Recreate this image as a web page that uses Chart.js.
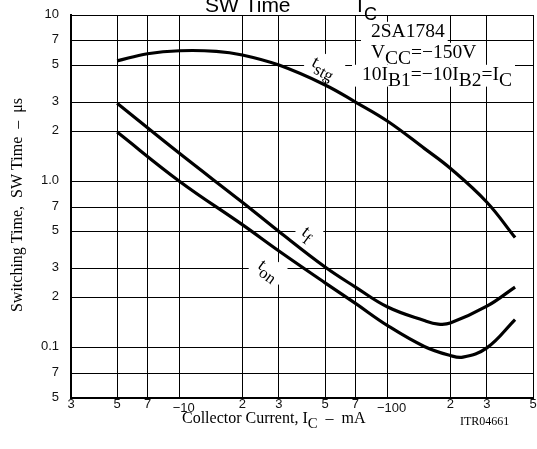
<!DOCTYPE html>
<html>
<head>
<meta charset="utf-8">
<script src="https://cdn.jsdelivr.net/npm/chart.js@4"></script>
<style>
  body { margin: 0; background: #fff; }
  canvas { display: block; }
</style>
</head>
<body>
<canvas id="chart" width="537" height="449"></canvas>
<script>
// axis ticks (collector current in -mA, switching time in us)
const xTicks = [3, 5, 7, 10, 20, 30, 50, 70, 100, 200, 300, 500];
const xTickLabels = ["3", "5", "7", "\u221210", "2", "3", "5", "7", "\u2212100", "2", "3", "5"];
const yTicks = [0.05, 0.07, 0.1, 0.2, 0.3, 0.5, 0.7, 1, 2, 3, 5, 7, 10];
const yTickLabels = ["5", "7", "0.1", "2", "3", "5", "7", "1.0", "2", "3", "5", "7", "10"];

// curves
const tstgCurrent = [5, 7, 10, 15, 20, 30, 50, 70, 100, 150, 200, 300, 410];
const tstgTime = [5.3, 5.85, 6.1, 6.05, 5.75, 5.0, 3.8, 3.0, 2.3, 1.58, 1.2, 0.75, 0.46];
const tfCurrent = [5, 10, 20, 30, 50, 70, 100, 150, 175, 200, 300, 410];
const tfTime = [2.95, 1.47, 0.75, 0.5, 0.306, 0.232, 0.176, 0.146, 0.139, 0.141, 0.178, 0.232];
const tonCurrent = [5, 10, 20, 30, 50, 70, 100, 150, 200, 230, 300, 410];
const tonTime = [1.98, 1.0, 0.55, 0.382, 0.246, 0.185, 0.136, 0.102, 0.09, 0.088, 0.1, 0.148];

const serif = '"Liberation Serif", "Times New Roman", serif';
const sans = '"Liberation Sans", Arial, sans-serif';

function toPoints(xs, ys) {
  return xs.map((x, i) => ({ x: x, y: ys[i] }));
}

function curve(xs, ys) {
  return {
    data: toPoints(xs, ys),
    showLine: true,
    borderColor: "#000",
    borderWidth: 3.2,
    pointRadius: 0,
    tension: 0.4,
    fill: false
  };
}

// draws text pieces, some of them lowered as subscripts
function drawRich(ctx, parts, x, y, size, subScale) {
  let cx = x;
  parts.forEach((p) => {
    const s = p.sub ? size * subScale : size;
    ctx.font = s + "px " + serif;
    ctx.fillText(p.t, cx, p.sub ? y + size * 0.3 : y);
    cx += ctx.measureText(p.t).width;
  });
  return cx - x;
}

function richWidth(ctx, parts, size, subScale) {
  let w = 0;
  parts.forEach((p) => {
    ctx.font = (p.sub ? size * subScale : size) + "px " + serif;
    w += ctx.measureText(p.t).width;
  });
  return w;
}

function boxedText(ctx, parts, x, y, size) {
  const w = richWidth(ctx, parts, size, 1);
  ctx.fillStyle = "#fff";
  ctx.fillRect(x - 10, y - size * 0.78, w + 13, size * 1.12);
  ctx.fillStyle = "#000";
  drawRich(ctx, parts, x, y, size, 1);
}

function curveLabel(chart, parts, xv, yv, angle, size) {
  const ctx = chart.ctx;
  const px = chart.scales.x.getPixelForValue(xv);
  const py = chart.scales.y.getPixelForValue(yv);
  const w = richWidth(ctx, parts, size, 0.92);
  ctx.save();
  ctx.translate(px, py);
  ctx.rotate(angle * Math.PI / 180);
  ctx.fillStyle = "#fff";
  ctx.fillRect(-w / 2 - 6, -size * 0.75, w + 12, size * 1.3);
  ctx.fillStyle = "#000";
  ctx.textBaseline = "alphabetic";
  drawRich(ctx, parts, -w / 2, size * 0.2, size, 0.92);
  ctx.restore();
}

const textPlugin = {
  id: "texts",
  beforeDatasetsDraw(chart) {
    const ctx = chart.ctx;
    ctx.save();
    ctx.textBaseline = "alphabetic";
    ctx.textAlign = "left";
    boxedText(ctx, [{ t: "2SA1784" }], 371, 37, 19.5);
    boxedText(ctx, [{ t: "V" }, { t: "CC", sub: true }, { t: "=\u2212150V" }], 371, 58, 19.5);
    boxedText(ctx, [{ t: "10I" }, { t: "B1", sub: true }, { t: "=\u221210I" }, { t: "B2", sub: true }, { t: "=I" }, { t: "C", sub: true }], 362, 80, 19.5);
    ctx.restore();

    curveLabel(chart, [{ t: "t" }, { t: "stg", sub: true }], 49, 4.8, 28, 18);
    curveLabel(chart, [{ t: "t" }, { t: "f", sub: true }], 41, 0.48, 36, 18);
    curveLabel(chart, [{ t: "t" }, { t: "on", sub: true }], 26.5, 0.29, 36, 18);
  },
  afterDraw(chart) {
    const ctx = chart.ctx;
    const xs = chart.scales.x;
    const ys = chart.scales.y;
    ctx.save();
    ctx.fillStyle = "#111";
    ctx.font = "13px " + sans;
    ctx.textAlign = "center";
    ctx.textBaseline = "alphabetic";
    xTicks.forEach((v, i) => {
      const lab = xTickLabels[i];
      const low = lab.startsWith("\u2212");
      ctx.fillText(lab, xs.getPixelForValue(v) + (low ? 4 : 0), low ? 412 : 408);
    });
    ctx.textAlign = "right";
    ctx.textBaseline = "middle";
    yTicks.forEach((v, i) => {
      ctx.fillText(yTickLabels[i], 59, ys.getPixelForValue(v) - 1);
    });

    // axis titles
    ctx.fillStyle = "#000";
    ctx.textAlign = "left";
    ctx.textBaseline = "alphabetic";
    drawRich(ctx, [{ t: "Collector Current, I" }, { t: "C", sub: true }, { t: "  \u2013  mA" }], 182, 423, 16, 0.92);
    ctx.font = "12px " + serif;
    ctx.fillText("ITR04661", 460, 425);

    ctx.save();
    ctx.translate(22, 205);
    ctx.rotate(-Math.PI / 2);
    ctx.font = "16px " + serif;
    ctx.textAlign = "center";
    ctx.fillText("Switching Time,  SW Time  \u2013  \u03bcs", 0, 0);
    ctx.restore();

    // title, cut off at the top edge
    ctx.font = "21px " + sans;
    ctx.fillText("SW Time", 205, 12);
    ctx.fillText("I", 357, 12);
    ctx.font = "18px " + sans;
    ctx.fillText("C", 364, 20);
    ctx.restore();
  }
};

function setTicks(values) {
  return (scale) => {
    scale.ticks = values.map((v) => ({ value: v }));
  };
}

new Chart(document.getElementById("chart"), {
  type: "scatter",
  data: {
    datasets: [
      curve(tstgCurrent, tstgTime),
      curve(tfCurrent, tfTime),
      curve(tonCurrent, tonTime)
    ]
  },
  options: {
    responsive: false,
    animation: false,
    layout: { padding: { top: 15, right: 4, left: 0, bottom: 0 } },
    plugins: {
      legend: { display: false },
      tooltip: { enabled: false }
    },
    scales: {
      x: {
        type: "logarithmic",
        min: 3,
        max: 500,
        afterBuildTicks: setTicks(xTicks),
        afterFit: (scale) => { scale.height = 51; },
        ticks: { display: false },
        grid: { color: "#000", lineWidth: 1, drawTicks: false },
        border: { display: true, color: "#000", width: 2 }
      },
      y: {
        type: "logarithmic",
        min: 0.05,
        max: 10,
        afterBuildTicks: setTicks(yTicks),
        afterFit: (scale) => { scale.width = 71; },
        ticks: { display: false },
        grid: { color: "#000", lineWidth: 1, drawTicks: false },
        border: { display: true, color: "#000", width: 2 }
      }
    }
  },
  plugins: [textPlugin]
});
</script>
</body>
</html>
